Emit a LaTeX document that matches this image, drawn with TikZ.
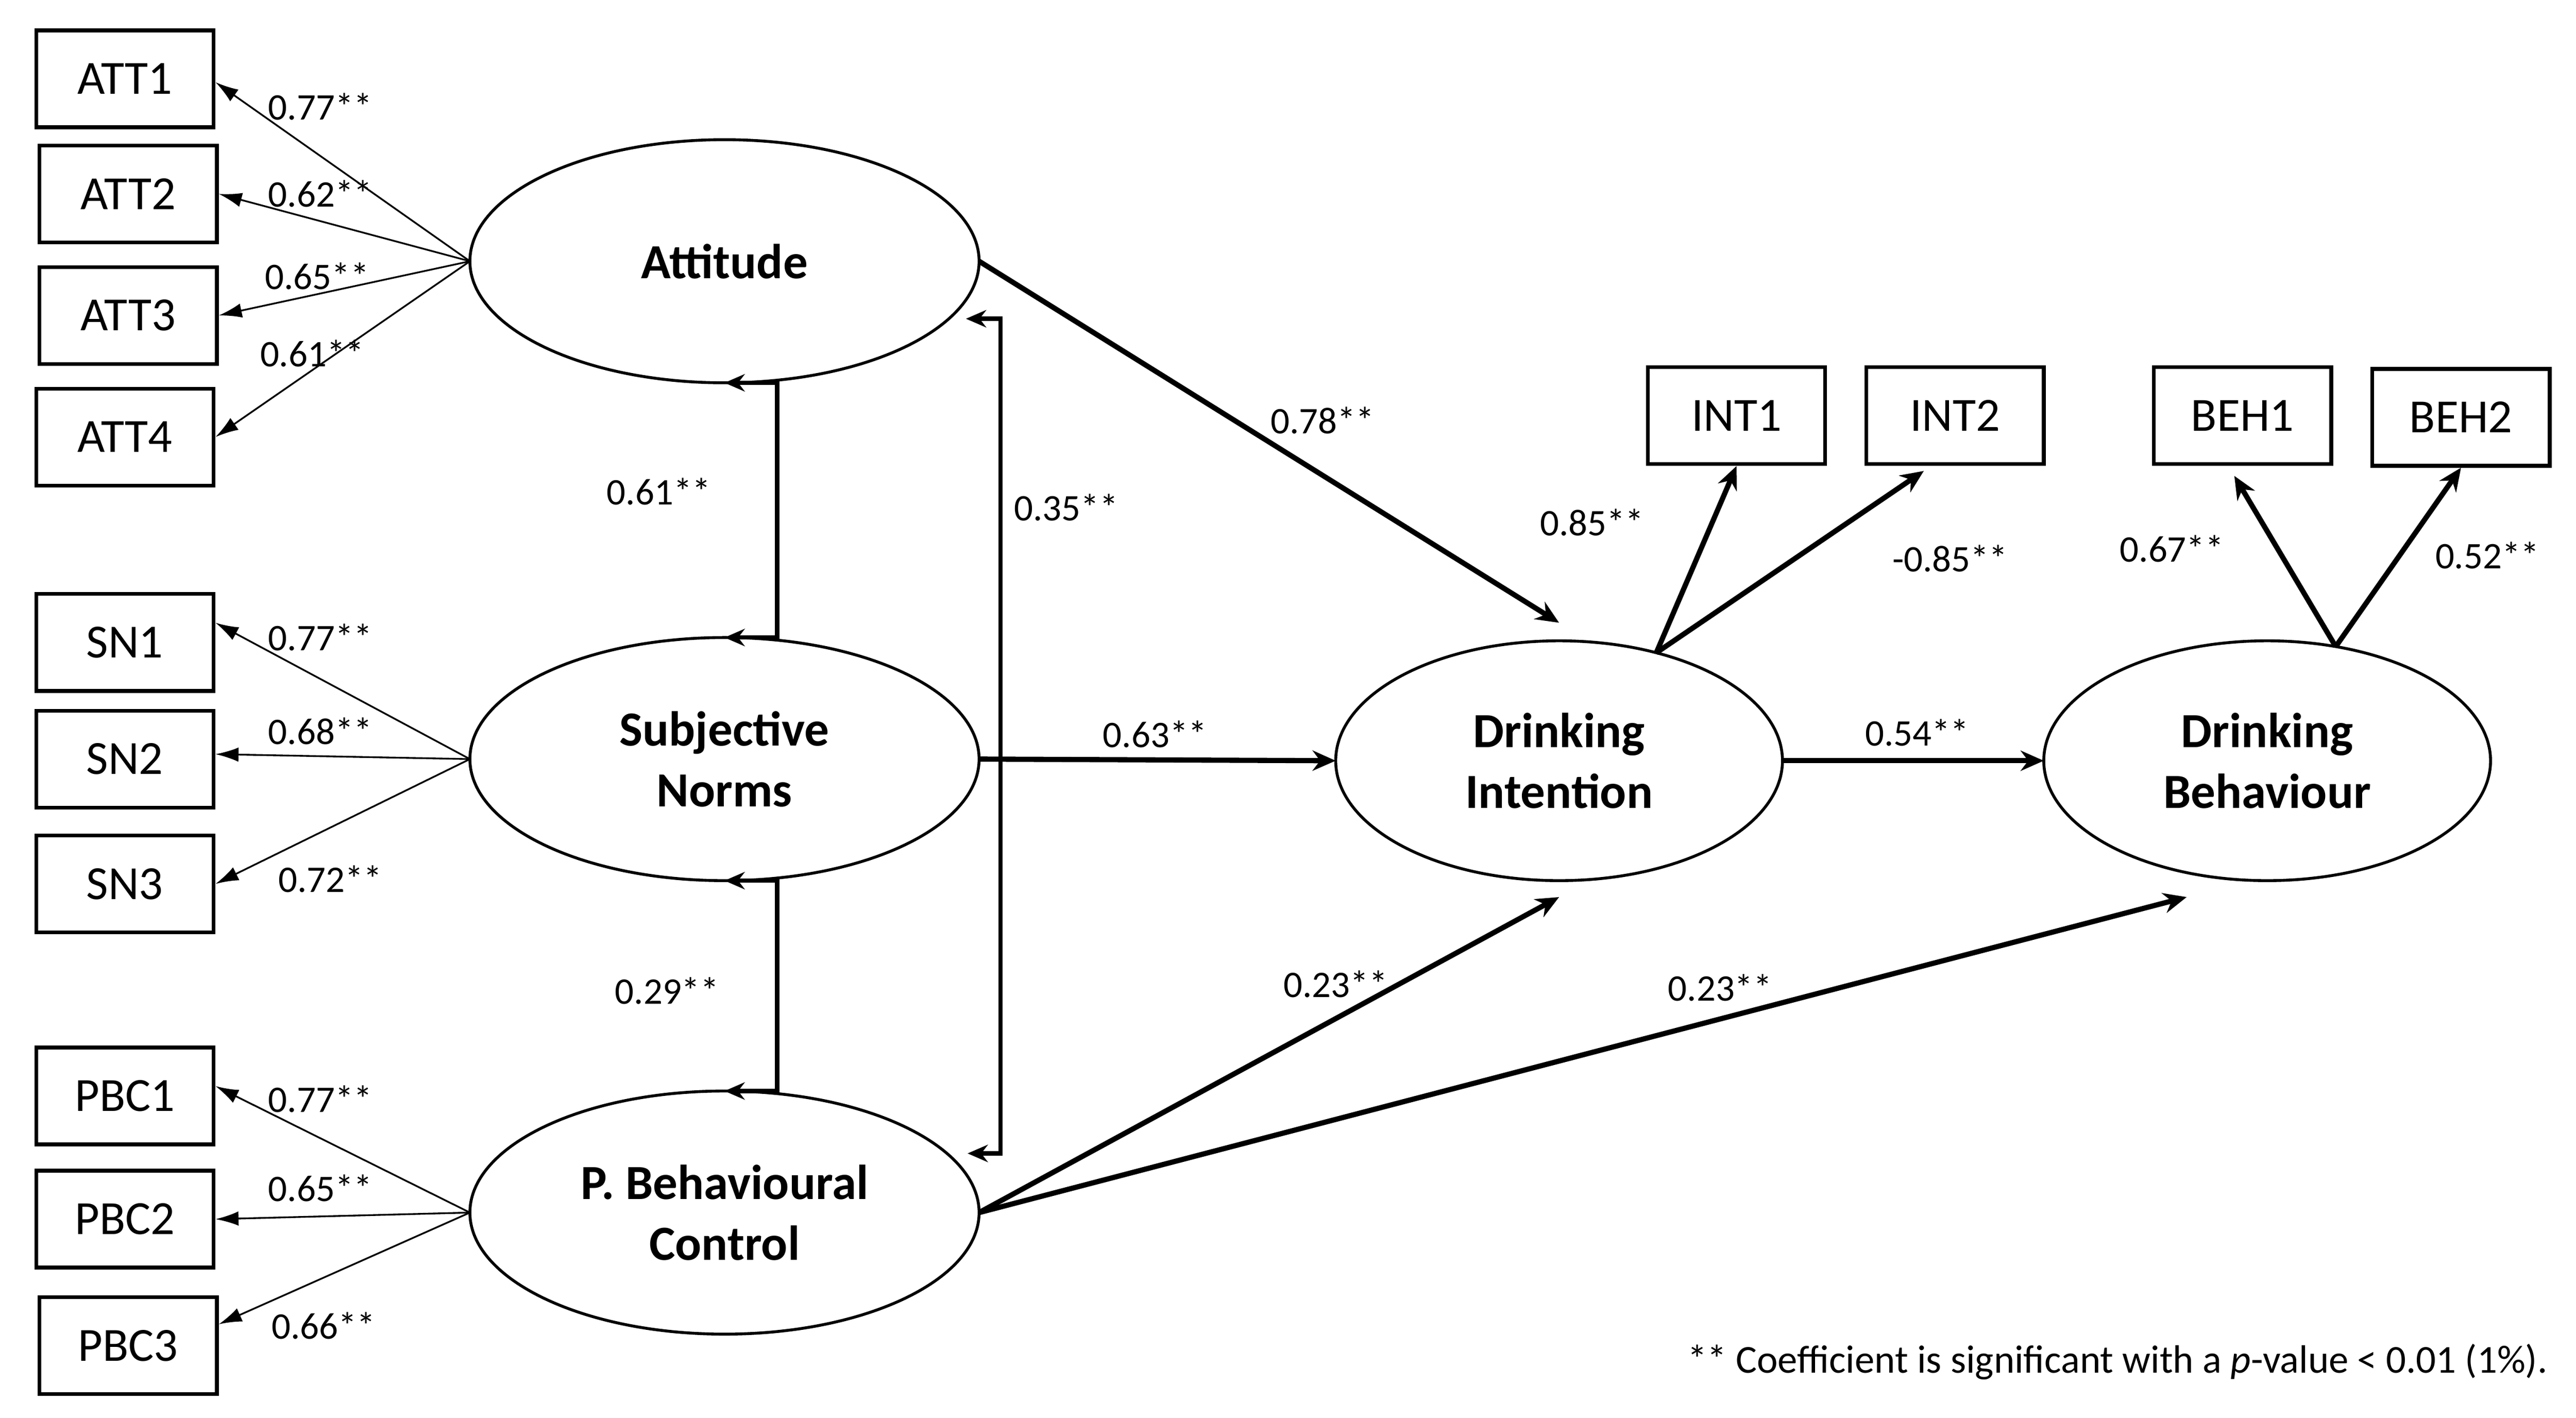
\documentclass[tikz,border=0pt]{standalone}
\usepackage{fontspec}
\setmainfont{Carlito}
\usetikzlibrary{arrows.meta, shapes.geometric, positioning, calc}

\begin{document}
\begin{tikzpicture}[x=0.02cm, y=0.02cm,
        obs/.style={draw, line width=1.3pt, minimum width=2.16cm, minimum height=1.18cm, inner sep=0, font=\fontsize{16.5}{20}\selectfont},
        lat/.style={draw, ellipse, line width=1pt, inner sep=0, outer sep=0, align=center, font=\fontsize{17}{21}\selectfont\bfseries},
        big/.style={minimum width=6.2cm, minimum height=2.96cm},
        mid/.style={minimum width=5.44cm, minimum height=2.92cm},
        ld/.style={-{Latex[length=8pt,width=5pt]}, line width=0.6pt},
        pa/.style={-{Stealth[length=8pt,width=7pt]}, line width=1.8pt},
        cv/.style={{Stealth[length=7pt,width=6pt]}-{Stealth[length=7pt,width=6pt]}, line width=1.5pt},
        co/.style={inner sep=0, font=\fontsize{13}{15}\selectfont}]
        \useasboundingbox (0,0) rectangle (1568,863);

        \draw node[lat, big] (att) at (441,704) {Attitude}
              node[lat, big] (sn) at (441,401) {Subjective\\Norms}
              node[lat, big] (pbc) at (441,125) {P. Behavioural\\Control};
        \draw node[lat, mid] (di) at (949,400) {Drinking\\Intention}
              node[lat, mid] (db) at (1380,400) {Drinking\\Behaviour};

        \foreach \nm/\x/\y in {ATT1/76/815, ATT2/78/745, ATT3/78/671, ATT4/76/597,
                SN1/76/472, SN2/76/401, SN3/76/325, PBC1/76/196, PBC2/76/121, PBC3/78/44,
                INT1/1057/610, INT2/1190/610, BEH1/1365/610, BEH2/1498/609}
        \node[obs] (\nm) at (\x,\y) {\nm};

        \foreach \f/\t/\d/\v/\px/\py in {att/ATT1/-2/0.77/195/798, att/ATT2/0/0.62/195/745,
                att/ATT3/0/0.65/193/695, att/ATT4/0/0.61/190/648,
                sn/SN1/12/0.77/195/475, sn/SN2/3/0.68/195/418, sn/SN3/0/0.72/201/328,
                pbc/PBC1/6/0.77/195/194, pbc/PBC2/0/0.65/195/140, pbc/PBC3/13/0.66/197/56}
        \draw[ld] (\f.west) -- ($(\t.east)+(0,\d)$) node[co] (c\t) at (\px,\py) {\v**};

        \draw[cv] (att.south) -- ++(32,0) |- (sn.north);
        \draw[cv] (sn.south) -- ++(32,0) |- (pbc.north);
        \draw[cv] ($(att.east)+(-8,-35)$) -- ++(21,0) |- ($(pbc.east)+(-7,36)$);
        \node[co] (r1) at (401,564) {0.61**};
        \node[co] (r2) at (406,260) {0.29**};
        \node[co] (r3) at (649,554) {0.35**};

        \draw[pa] (att.east) -- ($(di.north)+(0,11)$);
        \draw[pa] (sn.east) -- (di.west);
        \draw[pa] (di.east) -- (db.west);
        \draw[pa] (pbc.east) -- ($(di.south)+(0,-10)$);
        \draw[pa] (pbc.east) -- ($(db.south)+(-49,-10)$);
        \draw[pa] (di.48) -- (INT1.south);
        \draw[pa] (di.48) -- ($(INT2.south)+(-19,-3)$);
        \draw[pa] (db.59) -- ($(BEH1.south)+(-5,-6)$);
        \draw[pa] (db.59) -- (BEH2.south);

        \node[co] (p1) at (805,607) {0.78**};
        \node[co] (p2) at (703,416) {0.63**};
        \node[co] (p3) at (1167,417) {0.54**};
        \node[co] (p4) at (813,264) {0.23**};
        \node[co] (p5) at (1047,262) {0.23**};
        \node[co] (p6) at (969,545) {0.85**};
        \node[co] (p7) at (1187,523) {-0.85**};
        \node[co] (p8) at (1322,529) {0.67**};
        \node[co] (p9) at (1514,525) {0.52**};

        \node[co, anchor=east, font=\fontsize{13.7}{16}\selectfont] (note) at (1551,34) {** Coefficient is significant with a \textit{p}-value < 0.01 (1\%).};
\end{tikzpicture}
\end{document}
